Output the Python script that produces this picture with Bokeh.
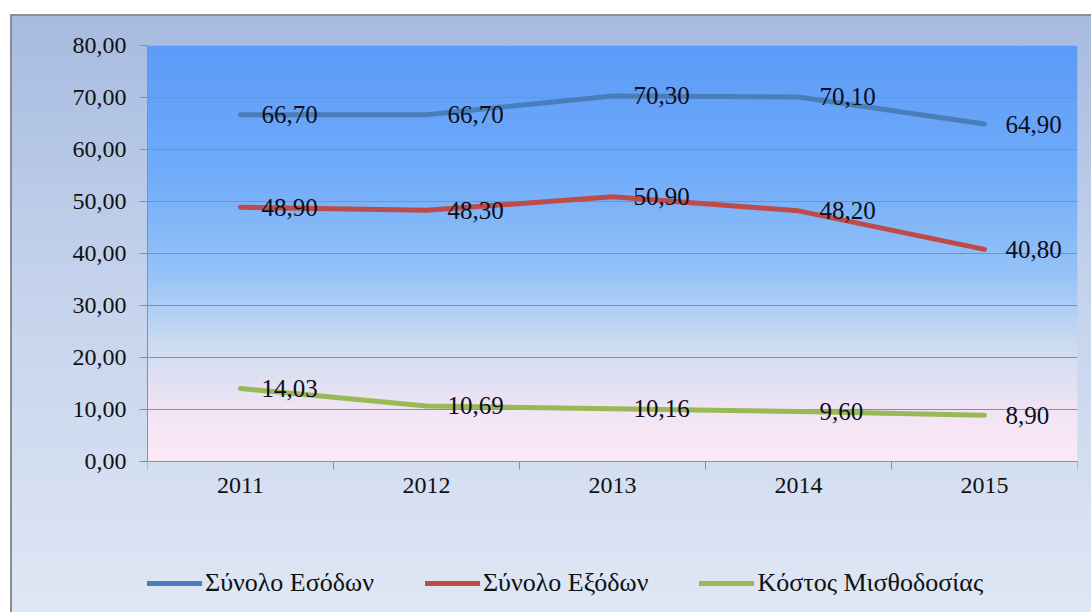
import numpy as np
from bokeh.plotting import figure
from bokeh.models import Range1d, FixedTicker, Legend, LegendItem, ColumnDataSource
from bokeh.core.properties import value
from bokeh.embed import file_html
from bokeh.resources import INLINE

years = ["2011", "2012", "2013", "2014", "2015"]
series_names = ["Σύνολο Εσόδων", "Σύνολο Εξόδων", "Κόστος Μισθοδοσίας"]
esoda = [66.70, 66.70, 70.30, 70.10, 64.90]
exoda = [48.90, 48.30, 50.90, 48.20, 40.80]
misthodosia = [14.03, 10.69, 10.16, 9.60, 8.90]
y_ticks = [0, 10, 20, 30, 40, 50, 60, 70, 80]
y_tick_labels = ["0,00", "10,00", "20,00", "30,00", "40,00", "50,00", "60,00", "70,00", "80,00"]

colors = ["#4A7EBB", "#BE4B48", "#98B954"]
FONT = "Liberation Serif"
GRID = "#8a8f99"

xs = list(range(len(years)))

# frame spans down to the legend; value axis occupies 0..80 (5.2 px per unit)
p = figure(width=1081, height=598, output_backend="svg", toolbar_location=None,
           x_range=Range1d(-0.5, 4.5), y_range=Range1d(-27.69, 80),
           min_border_left=137, min_border_right=14, min_border_top=31, min_border_bottom=7)
p.margin = (14, 0, 0, 10)
p.styles = {"background": "linear-gradient(180deg, #a6bbe0 0%, #c4d2ec 45%, #dfe7f4 100%)",
            "box-shadow": "inset 2px 2px 0 0 #8d8d8d"}
p.border_fill_color = None
p.background_fill_color = None
p.outline_line_color = None

# plot-area gradient background
stops = [(0.0, (252, 233, 246)), (0.12, (242, 229, 245)), (0.28, (205, 220, 240)),
         (0.45, (150, 195, 248)), (0.7, (112, 172, 250)), (1.0, (92, 155, 248))]
N = 300
img = np.zeros((N, 1), dtype=np.uint32)
view = img.view(dtype=np.uint8).reshape((N, 1, 4))
pos = np.array([s[0] for s in stops])
for c in range(3):
    vals = np.array([s[1][c] for s in stops], dtype=float)
    view[:, 0, c] = np.interp(np.linspace(0, 1, N), pos, vals).astype(np.uint8)
view[:, 0, 3] = 255
p.image_rgba(image=[img], x=-0.5, y=0, dw=5, dh=80, level="image")

p.xgrid.grid_line_color = None
p.ygrid.grid_line_color = GRID
p.ygrid.grid_line_width = 1
p.ygrid.ticker = FixedTicker(ticks=y_ticks)

p.yaxis.ticker = FixedTicker(ticks=y_ticks)
p.yaxis.bounds = (0, 80)
p.yaxis.major_label_overrides = {t: l for t, l in zip(y_ticks, y_tick_labels)}
p.yaxis.major_tick_out = 8
p.yaxis.major_tick_in = 0
p.yaxis.major_tick_line_color = GRID
p.yaxis.minor_tick_line_color = None
p.yaxis.major_label_standoff = 13

p.xaxis.fixed_location = 0
p.xaxis.ticker = FixedTicker(ticks=xs, minor_ticks=[x - 0.5 for x in xs] + [4.5])
p.xaxis.major_label_overrides = {x: y for x, y in zip(xs, years)}
p.xaxis.major_tick_line_color = None
p.xaxis.minor_tick_line_color = GRID
p.xaxis.minor_tick_out = 8
p.xaxis.minor_tick_in = 0
p.xaxis.major_label_standoff = 8

for ax in (p.xaxis, p.yaxis):
    ax.axis_line_color = GRID
    ax.major_label_text_font = FONT
    ax.major_label_text_font_size = "24px"
    ax.major_label_text_color = "#111111"

items = []
for name, vals, col in zip(series_names, [esoda, exoda, misthodosia], colors):
    src = ColumnDataSource(dict(x=xs, y=vals, lab=[f"{v:.2f}".replace(".", ",") for v in vals]))
    r = p.line("x", "y", source=src, line_color=col, line_width=5, line_join="round", line_cap="round")
    p.text("x", "y", text="lab", source=src, x_offset=21, text_align="left", text_baseline="middle",
           text_font=value(FONT), text_font_size="25px", text_color="#0d0d1a")
    items.append(LegendItem(label=name, renderers=[r]))

legend = Legend(items=items, orientation="horizontal", location=(0, 7),
                label_text_font=FONT, label_text_font_size="26px", label_text_color="#111111",
                glyph_width=55, glyph_height=24, spacing=51, padding=0, margin=0,
                background_fill_alpha=0, border_line_color=None, label_standoff=3)
p.add_layout(legend, "center")

open("out.html", "w").write(file_html(p, INLINE))
